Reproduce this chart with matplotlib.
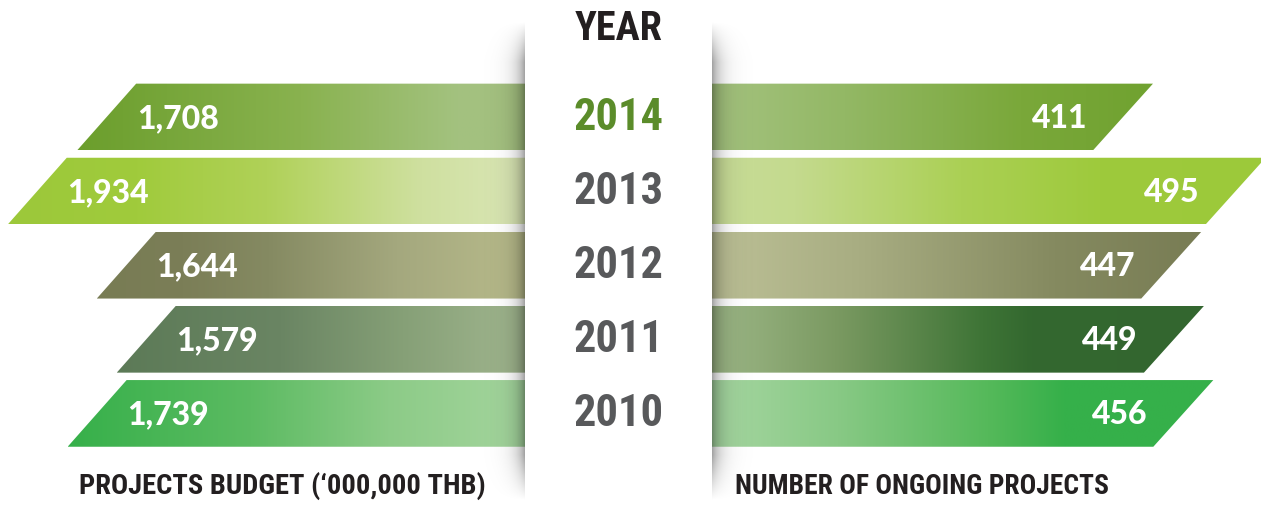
import numpy as np
import matplotlib
matplotlib.use("Agg")
import matplotlib.pyplot as plt
from matplotlib.patches import Polygon, Rectangle
from matplotlib.colors import to_rgb
from matplotlib import font_manager as fm

# ---------------- data ----------------
years = ["2014", "2013", "2012", "2011", "2010"]
budget = [1708, 1934, 1644, 1579, 1739]
projects = [411, 495, 447, 449, 456]
budget_labels = ["1,708", "1,934", "1,644", "1,579", "1,739"]
project_labels = ["411", "495", "447", "449", "456"]
title_center = "YEAR"
title_left = "PROJECTS BUDGET (\u2018000,000 THB)"
title_right = "NUMBER OF ONGOING PROJECTS"

# ---------------- styles ----------------
left_stops = [
    [(0, "#a3bf80"), (0.15, "#a3c27f"), (0.5, "#89b24f"), (1, "#6b9e2c")],
    [(0, "#dae6b6"), (0.2, "#cfe0a0"), (0.5, "#b0d158"), (0.75, "#a0cb3c"), (1, "#9cc83a")],
    [(0, "#b8bb8b"), (0.3, "#a4a87e"), (0.6, "#858a62"), (0.8, "#7b7e57"), (1, "#787c54")],
    [(0, "#a1b68f"), (0.3, "#86a077"), (0.6, "#6a8563"), (1, "#5c7a57")],
    [(0, "#a5d59e"), (0.3, "#8ccb87"), (0.6, "#5cbb62"), (1, "#36b04a")],
]
right_stops = [
    [(0, "#a4c27f"), (0.3, "#93b865"), (0.7, "#7aa83a"), (1, "#70a230")],
    [(0, "#c8dc98"), (0.15, "#c4da8e"), (0.45, "#abd055"), (0.7, "#9eca3c"), (1, "#9cc93a")],
    [(0, "#bcc096"), (0.3, "#a8ad82"), (0.7, "#858a60"), (1, "#787c54")],
    [(0, "#9db787"), (0.25, "#7b9a62"), (0.55, "#3e7436"), (0.65, "#33682f"), (1, "#346630")],
    [(0, "#a6d6a1"), (0.25, "#88c985"), (0.55, "#55b95a"), (0.7, "#36b04a"), (1, "#35b04a")],
]
year_colors = ["#5b8c2a", "#58595b", "#58595b", "#58595b", "#58595b"]


def pick(cands):
    for c in cands:
        try:
            fm.findfont(fm.FontProperties(family=c), fallback_to_default=False)
            return c
        except Exception:
            pass
    return "DejaVu Sans"


COND = pick(["Roboto Condensed", "Liberation Sans Narrow", "DejaVu Sans"])
LATO = pick(["Lato", "DejaVu Sans"])


def ramp(stops, n=256):
    t = np.linspace(0, 1, n)
    pos = [s[0] for s in stops]
    cols = np.array([to_rgb(s[1]) for s in stops])
    return np.stack([np.interp(t, pos, cols[:, k]) for k in range(3)], axis=-1)[None, :, :]


W, H = 1261, 508
fig = plt.figure(figsize=(W / 100, H / 100), dpi=100)
fig.patch.set_facecolor("white")

# row mapping: row i center at pixel 117 + 74.1 i
ROW0, ROWSTEP = 117.0, 74.1
ylim = ((H - ROW0) / ROWSTEP, -ROW0 / ROWSTEP)
BH = 0.9

# pixel <-> value mappings for each side
L_X0, L_K = 631.0, 0.307      # pixel = L_X0 - L_K * value
R_X0, R_K = 572.0, 1.3406     # pixel = R_X0 + R_K * value
COL_L, COL_R = 525, 712

axL = fig.add_axes([0, 0, COL_L / W, 1])
axR = fig.add_axes([COL_R / W, 0, (W - COL_R) / W, 1])
for ax in (axL, axR):
    ax.set_axis_off()
    ax.set_zorder(1)

l_xlim = (L_X0 / L_K, (L_X0 - COL_L) / L_K)
r_xlim = ((COL_R - R_X0) / R_K, (W - R_X0) / R_K)
l_slant = 29.5 / L_K
r_slant = 30.0 / R_K

for i, v in enumerate(budget):
    inner = l_xlim[1]
    top, bot = i - BH / 2, i + BH / 2
    poly = Polygon([(inner, top), (v - l_slant, top), (v + l_slant, bot), (inner, bot)],
                   closed=True, facecolor="none", edgecolor="none")
    axL.add_patch(poly)
    im = axL.imshow(ramp(left_stops[i]), extent=(inner, v + l_slant, bot, top),
                    aspect="auto", interpolation="bilinear", zorder=2)
    im.set_clip_path(poly)
    axL.text(v - 30 / L_K, i + 0.02, budget_labels[i], color="white", fontsize=23,
             fontweight="black", family=LATO, ha="left", va="center", zorder=4)
axL.set_xlim(*l_xlim)
axL.set_ylim(*ylim)

for i, v in enumerate(projects):
    inner = r_xlim[0]
    top, bot = i - BH / 2, i + BH / 2
    poly = Polygon([(inner, top), (v + r_slant, top), (v - r_slant, bot), (inner, bot)],
                   closed=True, facecolor="none", edgecolor="none")
    axR.add_patch(poly)
    im = axR.imshow(ramp(right_stops[i]), extent=(inner, v + r_slant, bot, top),
                    aspect="auto", interpolation="bilinear", zorder=2)
    im.set_clip_path(poly)
    axR.text(v - 36 / R_K, i + 0.02, project_labels[i], color="white", fontsize=23,
             fontweight="black", family=LATO, ha="right", va="center", zorder=4)
axR.set_xlim(*r_xlim)
axR.set_ylim(*ylim)

# ---- overlay: column shadow + white column ----
axO = fig.add_axes([0, 0, 1, 1])
axO.set_axis_off()
axO.set_zorder(2)
axO.patch.set_alpha(0)
xx, yy = np.meshgrid(np.arange(W) + 0.5, np.arange(H) + 0.5)
dl = np.where(xx < COL_L, COL_L - xx, 1e9)
dr = np.where(xx > COL_R, xx - COL_R, 1e9)
d = np.minimum(dl, dr)
alpha = 0.38 * np.exp(-d / 9.0)
vert = np.clip((yy - 22) / 40, 0, 1) * np.clip((500 - yy) / 45, 0, 1)
alpha = alpha * vert
shadow = np.zeros((H, W, 4))
shadow[..., 3] = alpha
axO.imshow(shadow, extent=(0, W, H, 0), aspect="auto", interpolation="bilinear", zorder=1)
axO.add_patch(Rectangle((COL_L, 20), COL_R - COL_L, H - 20, facecolor="white",
                        edgecolor="none", zorder=2))
axO.set_xlim(0, W)
axO.set_ylim(H, 0)

# ---- center labels ----
axC = fig.add_axes([COL_L / W, 0, (COL_R - COL_L) / W, 1])
axC.set_axis_off()
axC.set_zorder(3)
axC.patch.set_alpha(0)
axC.set_xlim(0, 1)
axC.set_ylim(*ylim)
for i, y in enumerate(years):
    axC.text(0.5, i + 0.01, y, color=year_colors[i], fontsize=32, fontweight="bold",
             family=COND, ha="center", va="center")
axC.text(0.5, (29 - ROW0) / ROWSTEP, title_center, color="#231f20", fontsize=29,
         fontweight="bold", family=COND, ha="center", va="center")

fig.text(282 / W, 1 - 486 / H, title_left, color="#231f20", fontsize=20.5,
         fontweight="bold", family=COND, ha="center", va="center")
fig.text(922 / W, 1 - 487 / H, title_right, color="#231f20", fontsize=19.8,
         fontweight="bold", family=COND, ha="center", va="center")

fig.savefig("out.png", dpi=100, facecolor="white")
